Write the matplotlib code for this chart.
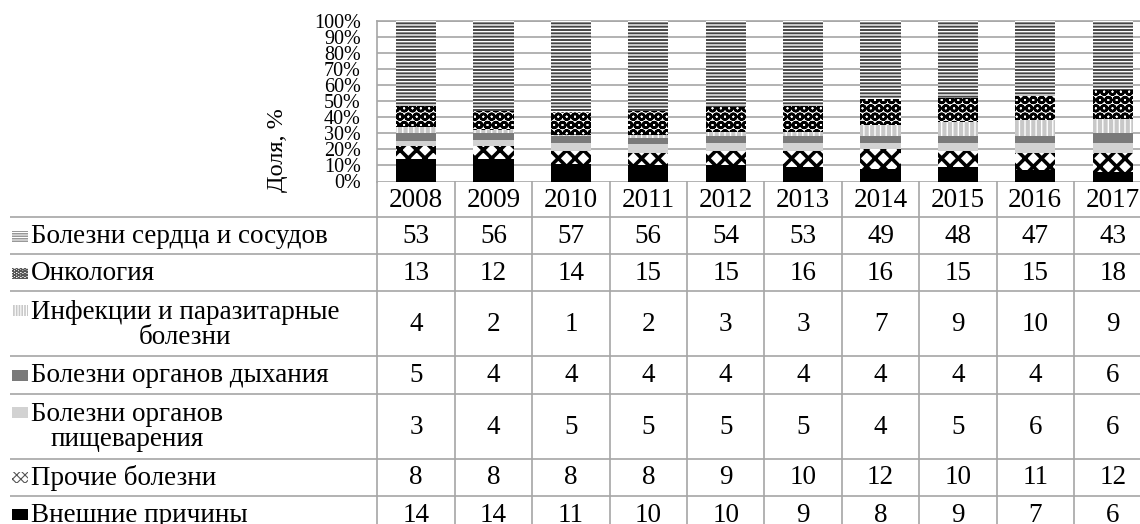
import numpy as np
import matplotlib as mpl
import matplotlib.pyplot as plt
from matplotlib.patches import Rectangle

plt.rcParams['font.family'] = ['Liberation Serif', 'DejaVu Serif']
plt.rcParams['hatch.linewidth'] = 1.2

years = ['2008', '2009', '2010', '2011', '2012', '2013', '2014', '2015', '2016', '2017']

# series from bottom to top of each bar
external = [14, 14, 11, 10, 10, 9, 8, 9, 7, 6]
other = [8, 8, 8, 8, 9, 10, 12, 10, 11, 12]
digestive = [3, 4, 5, 5, 5, 5, 4, 5, 6, 6]
respiratory = [5, 4, 4, 4, 4, 4, 4, 4, 4, 6]
infections = [4, 2, 1, 2, 3, 3, 7, 9, 10, 9]
oncology = [13, 12, 14, 15, 15, 16, 16, 15, 15, 18]
heart = [53, 56, 57, 56, 54, 53, 49, 48, 47, 43]

labels = ['Болезни сердца и сосудов', 'Онкология',
          'Инфекции и паразитарные\nболезни', 'Болезни органов дыхания',
          'Болезни органов\nпищеварения', 'Прочие болезни', 'Внешние причины']

stack = [external, other, digestive, respiratory, infections, oncology, heart]
# (face, hatch, hatch colour, hatch width) per series, bottom to top
styles = [('black', None, 'black', 1.2),
          ('white', 'xx', 'black', 2.6),
          ('#d2d2d2', None, '#d2d2d2', 1.2),
          ('#7a7a7a', None, '#7a7a7a', 1.2),
          ('#c8c8c8', '|||', 'white', 1.0),
          ('white', 'OO', 'black', 1.8),
          ('#454545', '-----', 'white', 1.0)]

W, H = 1140, 524
fig = plt.figure(figsize=(W / 100, H / 100), dpi=100)

# plot area in pixels
px_left, px_top, px_bottom = 377.4, 20.5, 181.5
col_w = 77.4
px_right = px_left + col_w * len(years)
ax = fig.add_axes([px_left / W, 1 - px_bottom / H, (px_right - px_left) / W, (px_bottom - px_top) / H])

x = np.arange(len(years))
bottom = np.zeros(len(years))
for vals, (fc, hatch, hc, hw) in zip(stack, styles):
    v = np.array(vals, dtype=float)
    with mpl.rc_context({'hatch.linewidth': hw}):
        ax.bar(x, v, 0.52, bottom=bottom, color=fc, edgecolor=hc, hatch=hatch, linewidth=0, zorder=3)
    bottom += v

ax.set_xlim(-0.5, len(years) - 0.5)
ax.set_ylim(0, 100)
ax.set_yticks(np.arange(0, 101, 10))
ax.set_yticklabels([f'{t}%' for t in range(0, 101, 10)], fontsize=14.5)
ax.tick_params(axis='y', length=0, pad=12)
ax.tick_params(axis='x', length=0, labelbottom=False)
ax.yaxis.grid(True, color='#a6a6a6', linewidth=1.2, zorder=0)
for s in ax.spines.values():
    s.set_color('#a6a6a6')
    s.set_linewidth(1.2)
ax.spines['bottom'].set_visible(False)

fig.text(277 / W, 1 - 150 / H, 'Доля, %', rotation=90, ha='center', va='center', fontsize=17.5)

# data table below the plot, in pixel units
tx0, tx1 = 10, px_right
row_h = [36, 37, 37, 65, 37, 65, 37, 37]
ty1 = px_bottom + sum(row_h)
tab = fig.add_axes([tx0 / W, 1 - ty1 / H, (tx1 - tx0) / W, (ty1 - px_bottom) / H])
tab.set_xlim(tx0, tx1)
tab.set_ylim(ty1, px_bottom)
tab.axis('off')

line_kw = dict(color='#a6a6a6', linewidth=1.2)
edges = px_bottom + np.cumsum([0] + row_h)
for y in edges[1:]:
    tab.plot([tx0, tx1], [y, y], **line_kw)
for i in range(len(years) + 1):
    cx = px_left + i * col_w
    tab.plot([cx, cx], [px_bottom, ty1], **line_kw)

for i, yr in enumerate(years):
    tab.text(px_left + (i + 0.5) * col_w, (edges[0] + edges[1]) / 2 + 1, yr,
             ha='center', va='center', fontsize=19.5)

series_top_down = list(zip(stack, styles))[::-1]
for r, (lab, (vals, (fc, hatch, hc, hw))) in enumerate(zip(labels, series_top_down)):
    yc = (edges[r + 1] + edges[r + 2]) / 2
    n_lines = lab.count('\n') + 1
    first_y = yc - (n_lines - 1) * 14
    mk_hatch = hatch * 2 if hatch else None
    mk_color = '#555555' if fc == 'white' else hc
    with mpl.rc_context({'hatch.linewidth': 0.8}):
        tab.add_patch(Rectangle((12, first_y - 5), 16, 11, facecolor=fc, edgecolor=mk_color,
                                hatch=mk_hatch, linewidth=0))
    tab.text(31, yc + 1, lab, ha='left', va='center', fontsize=19.5,
             multialignment='center', linespacing=0.98)
    for i, v in enumerate(vals):
        tab.text(px_left + (i + 0.5) * col_w, yc + 1, str(v), ha='center', va='center', fontsize=19.5)

fig.savefig('out.png', dpi=100)
